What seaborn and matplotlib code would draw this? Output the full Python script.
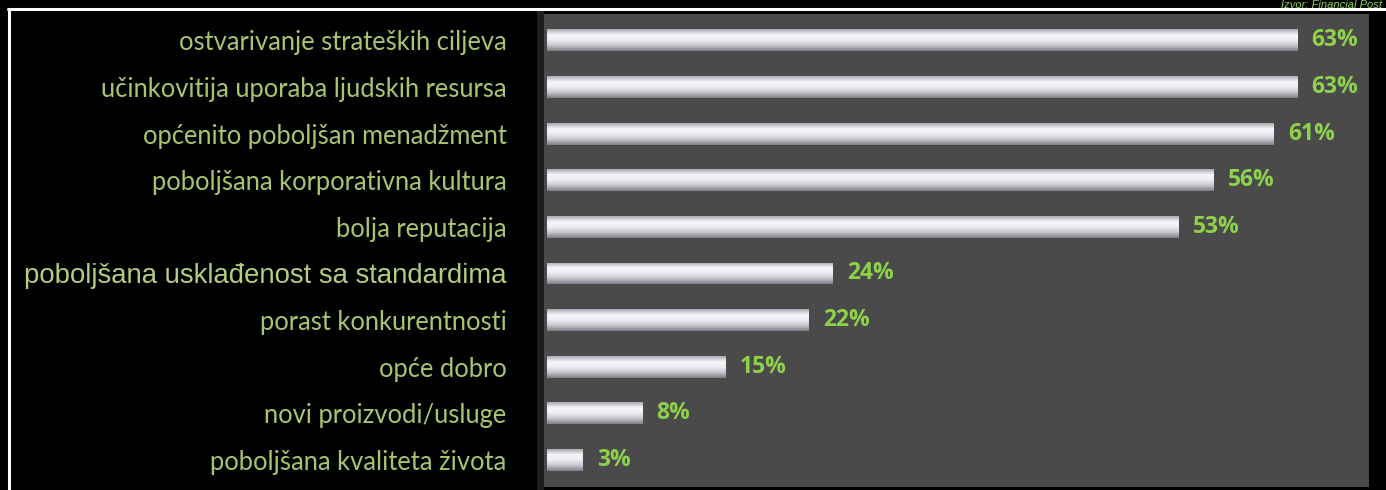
import matplotlib
matplotlib.use("Agg")
import matplotlib.pyplot as plt
from matplotlib.lines import Line2D
import seaborn as sns
import numpy as np
import pandas as pd

categories = [
    "ostvarivanje strateških ciljeva",
    "učinkovitija uporaba ljudskih resursa",
    "općenito poboljšan menadžment",
    "poboljšana korporativna kultura",
    "bolja reputacija",
    "poboljšana usklađenost sa standardima",
    "porast konkurentnosti",
    "opće dobro",
    "novi proizvodi/usluge",
    "poboljšana kvaliteta života",
]
values = [63, 63, 61, 56, 53, 24, 22, 15, 8, 3]
source = "Izvor: Financial Post"

df = pd.DataFrame({"cat": categories, "val": values})

label_green = "#a9c46f"
value_green = "#8ed14a"

sns.set_style("dark")
fig = plt.figure(figsize=(13.86, 4.9), dpi=100, facecolor="black")
ax = fig.add_axes([0.3896, 0.006, 0.598, 0.965])

sns.barplot(data=df, x="val", y="cat", orient="h", color="#d6d6dc",
            width=0.47, ax=ax, saturation=1, linewidth=0)

# silver gradient on each bar
grad = np.linspace(0, 1, 64).reshape(-1, 1)
cmap = matplotlib.colors.LinearSegmentedColormap.from_list(
    "silver", ["#a8a8b0", "#f6f6fa", "#ececf2", "#c6c6ce", "#7e7e86"])
for p in ax.patches:
    x0, y0 = p.get_x(), p.get_y()
    w, h = p.get_width(), p.get_height()
    im = ax.imshow(grad, cmap=cmap, aspect="auto", extent=[x0, x0 + w, y0 + h, y0],
                   zorder=p.get_zorder() + 0.1, interpolation="bicubic")
    im.set_clip_path(p)

for i, v in enumerate(values):
    ax.text(v + 1.2, i, f"{v}%", color=value_green, fontsize=16.5, fontweight="bold",
            va="center", ha="left", family="Open Sans")

ax.set_facecolor("#4a4a4a")
ax.set_xlim(-0.6, 69)
ax.set_ylim(9.58, -0.56)
ax.set_xlabel("")
ax.set_ylabel("")
ax.set_xticks([])
ax.grid(False)
ax.tick_params(axis="y", length=0, pad=24)
for lab in ax.get_yticklabels():
    if "usklađenost" in lab.get_text():
        lab.set_family("Liberation Sans")
        lab.set_fontsize(19.8)
        lab.set_color("#b4cc7e")
    else:
        lab.set_family("Lato")
        lab.set_fontsize(18.4)
        lab.set_color(label_green)
for s in ["top", "right", "bottom"]:
    ax.spines[s].set_visible(False)
ax.spines["left"].set_color("#1e1e1e")
ax.spines["left"].set_linewidth(5)

# white frame lines
fig.add_artist(Line2D([0.006, 1.0], [0.982, 0.982], color="white", lw=2.2,
                      transform=fig.transFigure))
fig.add_artist(Line2D([0.0065, 0.0065], [0.0, 0.982], color="white", lw=2.2,
                      transform=fig.transFigure))

fig.text(0.997, 0.999, source, color=value_green, fontsize=8, style="italic",
         va="top", ha="right", family="Liberation Sans")

fig.savefig("out.png", dpi=100, facecolor="black")
